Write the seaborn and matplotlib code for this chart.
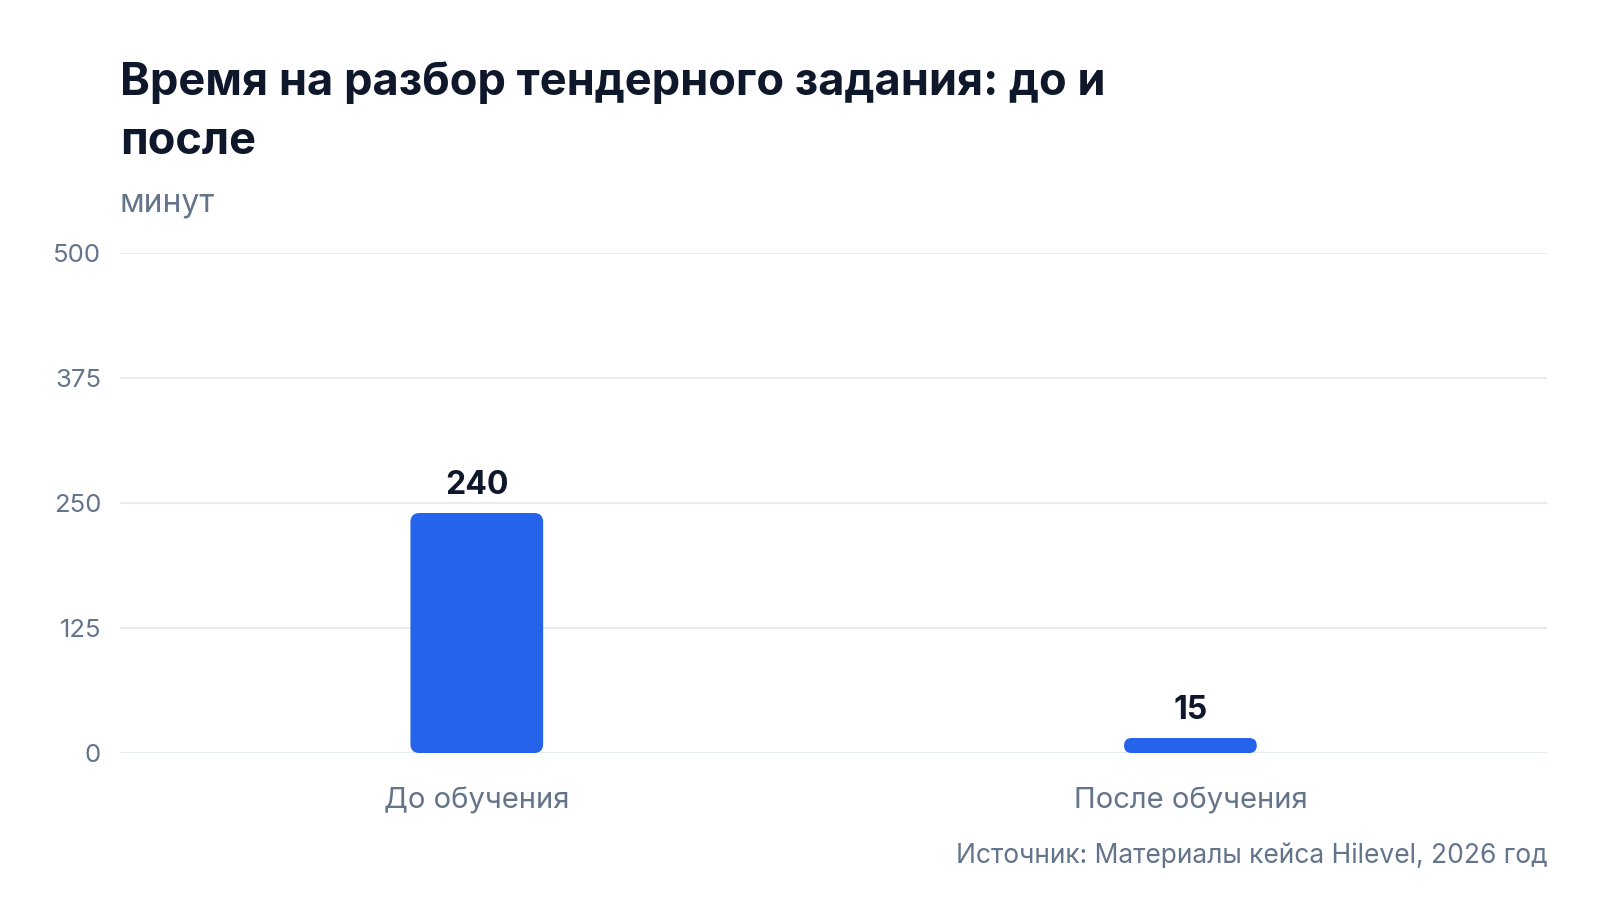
import matplotlib
matplotlib.use("Agg")
import matplotlib.pyplot as plt
import seaborn as sns
import pandas as pd
from matplotlib.patches import FancyBboxPatch

# Data
categories = ["До обучения", "После обучения"]
minutes = [240, 15]
y_ticks = [0, 125, 250, 375, 500]

title = "Время на разбор тендерного задания: до и\nпосле"
unit_label = "минут"
source = "Источник: Материалы кейса Hilevel, 2026 год"

BLUE = "#2563EB"
DARK = "#0F172A"
GRAY = "#64748B"
GRID = "#E2E8F0"

sns.set_theme(style="white")
plt.rcParams["font.family"] = ["Inter", "DejaVu Sans"]

df = pd.DataFrame({"category": categories, "minutes": minutes})

fig = plt.figure(figsize=(16, 9), dpi=100)
ax = fig.add_axes([0.075, 0.1633, 0.892, 0.5556])

sns.barplot(data=df, x="category", y="minutes", color=BLUE, width=0.186,
            saturation=1, ax=ax)

ax.set_xlim(-0.5, 1.5)
ax.set_ylim(0, 500)
ax.set_yticks(y_ticks)
ax.grid(axis="y", color=GRID, linewidth=1.2)
ax.set_axisbelow(True)
sns.despine(ax=ax, left=True, bottom=True)
ax.set_xlabel("")
ax.set_ylabel("")
ax.tick_params(axis="y", length=0, pad=13.5, labelsize=18.5, labelcolor=GRAY)
ax.tick_params(axis="x", length=0, pad=25, labelsize=21, labelcolor=GRAY)

# replace plain bars with rounded ones
fig.canvas.draw()
inv = ax.transData.inverted()
x_per_px = (inv.transform((1, 0)) - inv.transform((0, 0)))[0]
y_per_px = (inv.transform((0, 1)) - inv.transform((0, 0)))[1]
aspect = y_per_px / x_per_px
for bar in list(ax.patches):
    x, y = bar.get_x(), bar.get_y()
    w, h = bar.get_width(), bar.get_height()
    r_px = min(9, (h / y_per_px) / 2)
    rounded = FancyBboxPatch((x, y), w, h,
                             boxstyle=f"round,pad=0,rounding_size={r_px * x_per_px}",
                             mutation_aspect=aspect,
                             facecolor=BLUE, edgecolor="none", zorder=3)
    bar.remove()
    ax.add_patch(rounded)

for i, v in enumerate(minutes):
    ax.annotate(str(v), (i, v), xytext=(0, 9), textcoords="offset points",
                ha="center", va="bottom", fontsize=23, fontweight="bold",
                color=DARK)

fig.text(0.075, 0.932, title, ha="left", va="top", fontsize=32.5,
         fontweight="bold", color=DARK, linespacing=1.52)
fig.text(0.075, 0.7655, unit_label, ha="left", va="baseline", fontsize=23,
         color=GRAY)
fig.text(0.967, 0.0411, source, ha="right", va="baseline", fontsize=19,
         color=GRAY)

fig.savefig("out.png", dpi=100, facecolor="white")
